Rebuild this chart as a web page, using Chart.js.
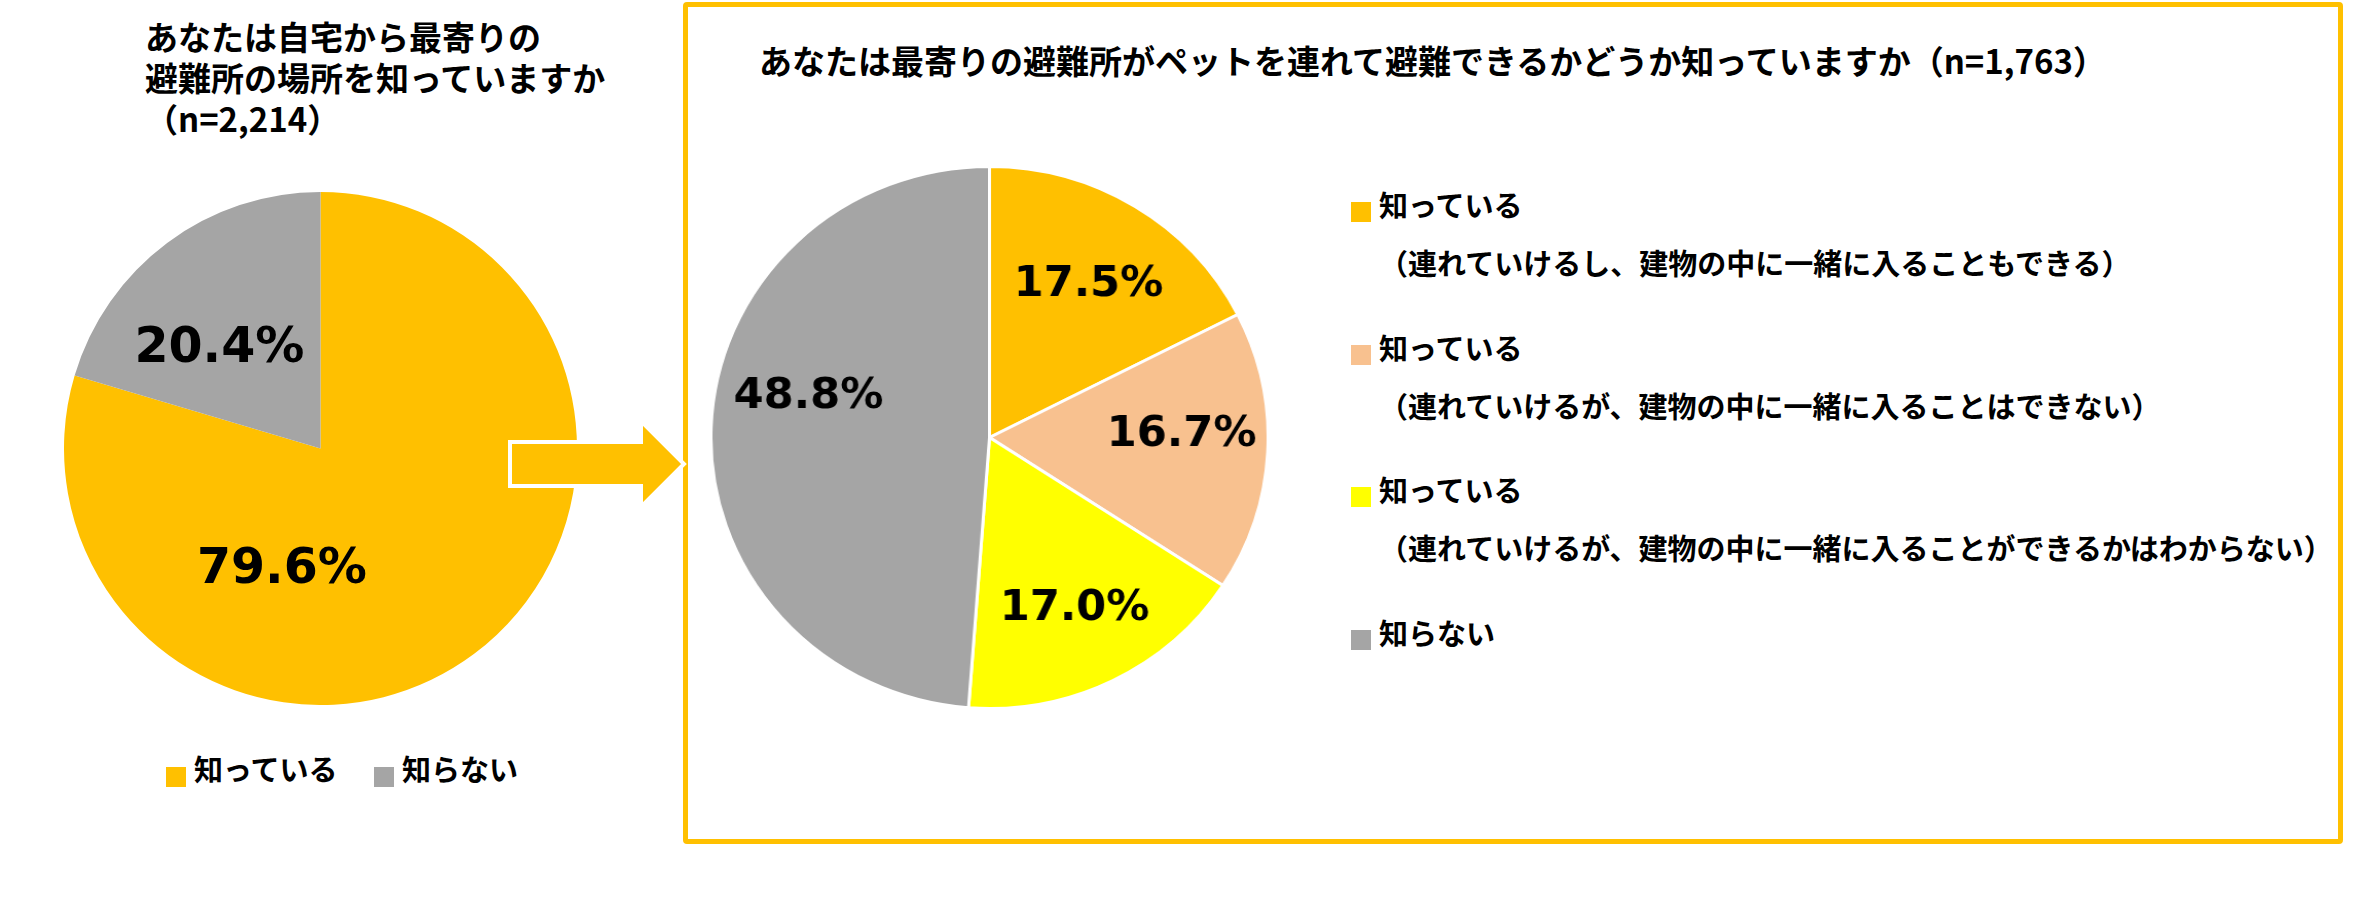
<!DOCTYPE html>
<html lang="ja">
<head>
<meta charset="utf-8">
<script src="https://cdn.jsdelivr.net/npm/chart.js@4.4.1/dist/chart.umd.min.js"></script>
<style>
  html, body { margin: 0; padding: 0; background: #fff; }
  body { width: 2365px; height: 914px; position: relative; overflow: hidden;
         font-family: "Noto Sans CJK JP", sans-serif; font-weight: 700; color: #000; }
  .t { position: absolute; white-space: nowrap; line-height: 1; }
  .sq { position: absolute; width: 20px; height: 20px; }
  #box { position: absolute; left: 683px; top: 2px; width: 1660px; height: 842px;
         box-sizing: border-box; border: 5px solid #FFC000; border-radius: 4px; }
  #c1 { position: absolute; left: 64px; top: 192px; }
  #c2 { position: absolute; left: 717px; top: 165px; transform: scaleX(1.028); transform-origin: center; }
  #arrow { position: absolute; left: 0; top: 0; z-index: 3; }
</style>
</head>
<body>
<div id="box"></div>
<canvas id="c1" width="513" height="513"></canvas>
<canvas id="c2" width="545" height="545"></canvas>
<svg id="arrow" width="700" height="600">
  <polygon points="510,442 641,442 641,421 684,464 641,507 641,486 510,486"
           fill="#FFC000" stroke="#fff" stroke-width="4" stroke-linejoin="miter"/>
</svg>
<div id="texts"></div>
<script>
// 左:自宅から最寄りの避難所を知っているか
const Q1_TITLE = ["あなたは自宅から最寄りの", "避難所の場所を知っていますか", "（n=2,214）"];
const Q1_LABELS = ["知っている", "知らない"];
const Q1_VALUES = [79.6, 20.4];
const Q1_COLORS = ["#FFC000", "#A5A5A5"];

// 右:ペット同伴避難の可否を知っているか
const Q2_TITLE = "あなたは最寄りの避難所がペットを連れて避難できるかどうか知っていますか（n=1,763）";
const Q2_LABELS = ["知っている", "知っている", "知っている", "知らない"];
const Q2_NOTES = [
  "（連れていけるし、建物の中に一緒に入ることもできる）",
  "（連れていけるが、建物の中に一緒に入ることはできない）",
  "（連れていけるが、建物の中に一緒に入ることができるかはわからない）",
  "",
];
const Q2_VALUES = [17.5, 16.7, 17.0, 48.8];
const Q2_COLORS = ["#FFC000", "#F8C18F", "#FFFF00", "#A5A5A5"];

// ラベル位置の微調整 [角度ずれ(度), 半径比]
const Q1_LABEL_POS = [[55, 0.48], [-7.5, 0.565]];
const Q2_LABEL_POS = [[0, 0.68], [-5, 0.69], [0, 0.69], [12, 0.67]];

const pctLabels = {
  id: "pctLabels",
  afterDatasetsDraw(chart, args, opts) {
    const { ctx } = chart;
    const data = chart.data.datasets[0].data;
    ctx.save();
    ctx.font = `bold ${opts.size}px "DejaVu Sans"`;
    ctx.fillStyle = "#000";
    ctx.textAlign = "center";
    ctx.textBaseline = "alphabetic";
    chart.getDatasetMeta(0).data.forEach((arc, i) => {
      const p = arc.getProps(["x", "y", "startAngle", "endAngle", "outerRadius"], true);
      const [nudge, f] = opts.pos[i];
      const a = (p.startAngle + p.endAngle) / 2 + nudge * Math.PI / 180;
      const r = p.outerRadius * f;
      ctx.fillText(data[i].toFixed(1) + "%", p.x + Math.cos(a) * r, p.y + Math.sin(a) * r + opts.size * 0.364);
    });
    ctx.restore();
  },
};

function pie(id, labels, values, colors, border, labelSize, labelPos) {
  return new Chart(document.getElementById(id), {
    type: "pie",
    data: { labels, datasets: [{ data: values, backgroundColor: colors,
      borderColor: "#fff", borderWidth: border }] },
    options: {
      responsive: false, animation: false, layout: { padding: 0 },
      plugins: { legend: { display: false }, tooltip: { enabled: false },
                 pctLabels: { size: labelSize, pos: labelPos } },
    },
    plugins: [pctLabels],
  });
}

function text(str, x, cy, size) {
  const d = document.createElement("div");
  d.className = "t";
  d.textContent = str;
  d.style.left = x + "px";
  d.style.top = (cy - size * 0.556) + "px";
  d.style.fontSize = size + "px";
  document.getElementById("texts").appendChild(d);
}

function square(color, x, cy) {
  const d = document.createElement("div");
  d.className = "sq";
  d.style.background = color;
  d.style.left = x + "px";
  d.style.top = (cy - 10) + "px";
  document.getElementById("texts").appendChild(d);
}

pie("c1", Q1_LABELS, Q1_VALUES, Q1_COLORS, 0, 49, Q1_LABEL_POS);
pie("c2", Q2_LABELS, Q2_VALUES, Q2_COLORS, 3, 42, Q2_LABEL_POS);

Q1_TITLE.forEach((s, i) => text(s, 145, 38 + i * 41, 33));
Q1_LABELS.forEach((s, i) => {
  square(Q1_COLORS[i], 166 + i * 208, 777);
  text(s, 194 + i * 208, 770, 29);
});

text(Q2_TITLE, 759, 62, 33);
Q2_LABELS.forEach((s, i) => {
  const cy = 212 + i * 142.7;
  square(Q2_COLORS[i], 1351, cy);
  text(s, 1379, cy - 6, 29);
  if (Q2_NOTES[i]) text(Q2_NOTES[i], 1379, cy + 52, 29);
});
</script>
</body>
</html>
